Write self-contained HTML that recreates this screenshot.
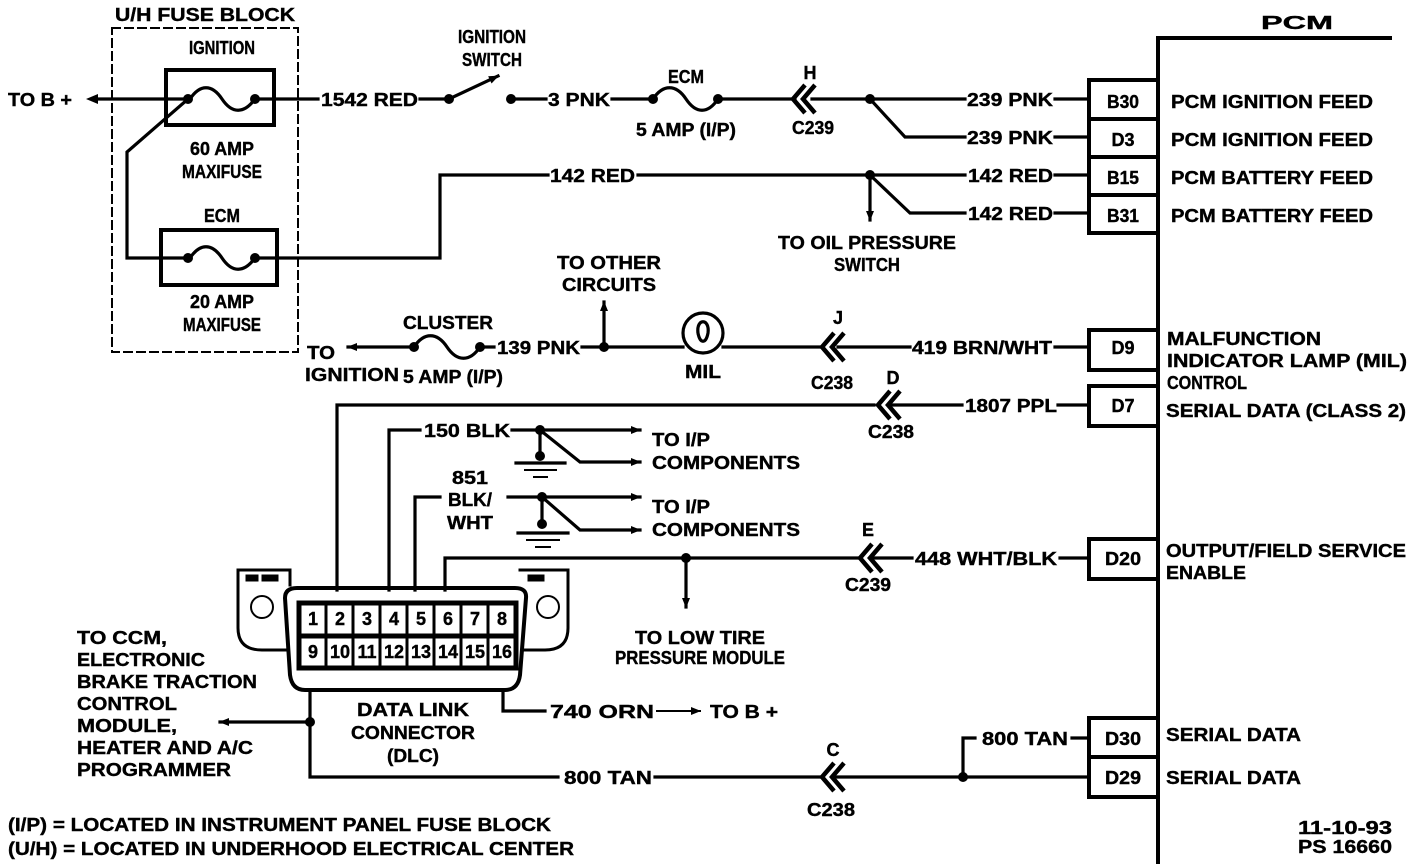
<!DOCTYPE html>
<html><head><meta charset="utf-8"><style>
html,body{margin:0;padding:0;background:#fff;}
svg{display:block}
text{font-family:"Liberation Sans",sans-serif;font-weight:bold;font-size:18px;fill:#000;stroke:#000;stroke-width:0.4px}
</style></head><body>
<svg width="1424" height="864" viewBox="0 0 1424 864" xmlns="http://www.w3.org/2000/svg">
<defs>
<marker id="ar" viewBox="0 0 10 10" refX="9" refY="5" markerWidth="12" markerHeight="10" markerUnits="userSpaceOnUse" orient="auto"><path d="M0,1 L10,5 L0,9 Z" fill="#000"/></marker>
</defs>
<g stroke="#000" stroke-width="3.2" fill="none" stroke-linecap="square">
<line x1="1158" y1="38" x2="1158" y2="864" stroke-width="4"/>
<line x1="1158" y1="38" x2="1390" y2="38" stroke-width="4"/>
<rect x="1089" y="80" width="69" height="153" stroke-width="4"/>
<line x1="1089" y1="119" x2="1158" y2="119" stroke-width="4"/>
<line x1="1089" y1="157" x2="1158" y2="157" stroke-width="4"/>
<line x1="1089" y1="195" x2="1158" y2="195" stroke-width="4"/>
<rect x="1089" y="330" width="69" height="40" stroke-width="4"/>
<rect x="1089" y="386" width="69" height="40" stroke-width="4"/>
<rect x="1089" y="539" width="69" height="40" stroke-width="4"/>
<rect x="1089" y="718" width="69" height="79" stroke-width="4"/>
<line x1="1089" y1="757" x2="1158" y2="757" stroke-width="4"/>
<rect x="112" y="28" width="186" height="324" stroke-dasharray="8,5" stroke-width="2"/>
<rect x="166" y="70" width="108" height="55" stroke-width="4"/>
<rect x="161" y="230" width="116" height="55" stroke-width="4"/>
<path d="M190,99 C200,84 212,84 222,99 C232,114 244,114 255,99"/>
<path d="M190,258 C200,243 212,243 222,258 C232,273 244,273 255,258"/>
<line x1="95" y1="99" x2="188" y2="99"/>
<line x1="255" y1="99" x2="318" y2="99"/>
<path d="M188,99 L127,152 L127,258 L188,258"/>
<path d="M255,258 L440,258 L440,175 L548,175"/>
<line x1="638" y1="175" x2="965" y2="175"/>
<path d="M870,175 L910,213 L965,213"/>
<line x1="1055" y1="175" x2="1088" y2="175"/>
<line x1="1055" y1="213" x2="1088" y2="213"/>
<line x1="870" y1="175" x2="870" y2="220" marker-end="url(#ar)"/>
<line x1="420" y1="99" x2="449" y2="99" stroke-dasharray="4,2"/>
<line x1="449" y1="99" x2="498" y2="76" marker-end="url(#ar)"/>
<line x1="511" y1="99" x2="546" y2="99"/>
<line x1="612" y1="99" x2="650" y2="99"/>
<path d="M653,99 C663,84 676,84 686,99 C696,114 708,114 718,99"/>
<line x1="718" y1="99" x2="795" y2="99"/>
<line x1="812" y1="99" x2="965" y2="99"/>
<path d="M870,99 L905,137 L965,137"/>
<line x1="1055" y1="99" x2="1088" y2="99"/>
<line x1="1055" y1="137" x2="1088" y2="137"/>
<line x1="412" y1="347" x2="348" y2="347" marker-end="url(#ar)"/>
<path d="M414,347 C424,332 437,332 447,347 C457,362 470,362 480,347"/>
<line x1="480" y1="347" x2="494" y2="347"/>
<line x1="582" y1="347" x2="683" y2="347"/>
<line x1="604" y1="347" x2="604" y2="302" marker-end="url(#ar)"/>
<circle cx="703" cy="333" r="20"/>
<path d="M698,333 C696,318 710,318 708,333 C706,344 700,344 698,333"/>
<line x1="723" y1="347" x2="822" y2="347"/>
<line x1="838" y1="347" x2="910" y2="347"/>
<line x1="1055" y1="347" x2="1088" y2="347"/>
<path d="M337,590 L337,405 L874,405"/>
<line x1="890" y1="405" x2="962" y2="405"/>
<line x1="1058" y1="405" x2="1088" y2="405"/>
<path d="M389,590 L389,430 L420,430"/>
<line x1="512" y1="430" x2="640" y2="430" marker-end="url(#ar)"/>
<path d="M540,430 L580,462 L640,462" marker-end="url(#ar)"/>
<line x1="540" y1="430" x2="540" y2="456"/>
<line x1="516" y1="463" x2="565" y2="463"/>
<line x1="525" y1="470" x2="556" y2="470" stroke-width="2"/>
<line x1="534" y1="477" x2="547" y2="477" stroke-width="2"/>
<path d="M415,590 L415,497 L440,497"/>
<line x1="508" y1="497" x2="640" y2="497" marker-end="url(#ar)"/>
<path d="M542,497 L580,530 L640,530" marker-end="url(#ar)"/>
<line x1="542" y1="497" x2="542" y2="525"/>
<line x1="518" y1="533" x2="568" y2="533"/>
<line x1="527" y1="540" x2="559" y2="540" stroke-width="2"/>
<line x1="536" y1="547" x2="550" y2="547" stroke-width="2"/>
<path d="M445,590 L445,558 L858,558"/>
<line x1="874" y1="558" x2="912" y2="558"/>
<line x1="1060" y1="558" x2="1088" y2="558"/>
<line x1="686" y1="558" x2="686" y2="607" marker-end="url(#ar)"/>
<path d="M238,570 L290,570 L290,585 M238,570 L238,628 Q238,650 262,650 L285,650" stroke-width="3"/>
<path d="M520,570 L568,570 L568,628 Q568,650 545,650 L522,650" stroke-width="3"/>
<rect x="246" y="575" width="12" height="6" fill="#000" stroke-width="1"/>
<rect x="262" y="575" width="16" height="6" fill="#000" stroke-width="1"/>
<rect x="528" y="575" width="16" height="6" fill="#000" stroke-width="1"/>
<circle cx="262" cy="607" r="11" stroke-width="2"/>
<circle cx="548" cy="607" r="11" stroke-width="2"/>
<path d="M285,598 Q285,588 297,588 L515,588 Q527,588 526,598 L520,675 Q518,690 505,690 L305,690 Q292,690 290,675 Z" stroke-width="4"/>
<rect x="299" y="603" width="217" height="65" stroke-width="5"/>
<line x1="299" y1="636" x2="516" y2="636" stroke-width="5"/>
<g stroke-width="3">
<line x1="326" y1="603" x2="326" y2="668"/><line x1="353" y1="603" x2="353" y2="668"/><line x1="380" y1="603" x2="380" y2="668"/><line x1="407" y1="603" x2="407" y2="668"/><line x1="434" y1="603" x2="434" y2="668"/><line x1="461" y1="603" x2="461" y2="668"/><line x1="488" y1="603" x2="488" y2="668"/>
</g>
<path d="M503,690 L503,711 L545,711"/>
<line x1="657" y1="711" x2="700" y2="711" stroke-width="2" marker-end="url(#ar)"/>
<path d="M310,690 L310,777 L558,777"/>
<line x1="310" y1="722" x2="220" y2="722" marker-end="url(#ar)"/>
<line x1="655" y1="777" x2="820" y2="777"/>
<line x1="836" y1="777" x2="1088" y2="777"/>
<path d="M963,777 L963,738 L975,738"/>
<line x1="1072" y1="738" x2="1088" y2="738"/>
<g stroke-width="4.5" stroke-linecap="butt">
<path d="M805,85 L793,99 L805,113 M815,85 L803,99 L815,113"/>
<path d="M834,333 L822,347 L834,361 M844,333 L832,347 L844,361"/>
<path d="M890,391 L878,405 L890,419 M900,391 L888,405 L900,419"/>
<path d="M872,544 L860,558 L872,572 M882,544 L870,558 L882,572"/>
<path d="M834,763 L822,777 L834,791 M844,763 L832,777 L844,791"/>
</g>
</g>
<g fill="#000">
<circle cx="188" cy="99" r="5"/><circle cx="255" cy="99" r="5"/>
<circle cx="188" cy="258" r="5"/><circle cx="255" cy="258" r="5"/>
<circle cx="449" cy="99" r="5"/><circle cx="511" cy="99" r="5"/>
<circle cx="653" cy="99" r="5"/><circle cx="718" cy="99" r="5"/>
<circle cx="870" cy="99" r="5"/><circle cx="870" cy="175" r="5"/>
<circle cx="414" cy="347" r="5"/><circle cx="480" cy="347" r="5"/>
<circle cx="604" cy="347" r="5"/>
<circle cx="540" cy="430" r="5"/><circle cx="540" cy="456" r="5"/>
<circle cx="542" cy="497" r="5"/><circle cx="542" cy="524" r="5"/>
<circle cx="686" cy="558" r="5"/>
<circle cx="310" cy="722" r="5"/><circle cx="963" cy="777" r="5"/>
<path d="M86,99 L98,94 L98,104 Z"/>
</g>
<g>
<text x="1297" y="29" text-anchor="middle" font-size="28" textLength="72" lengthAdjust="spacingAndGlyphs">PCM</text>
<text x="205" y="21" text-anchor="middle" textLength="180" lengthAdjust="spacingAndGlyphs">U/H FUSE BLOCK</text>
<text x="222" y="54" text-anchor="middle" textLength="66" lengthAdjust="spacingAndGlyphs">IGNITION</text>
<text x="222" y="155" text-anchor="middle" textLength="64" lengthAdjust="spacingAndGlyphs">60 AMP</text>
<text x="222" y="178" text-anchor="middle" textLength="80" lengthAdjust="spacingAndGlyphs">MAXIFUSE</text>
<text x="222" y="222" text-anchor="middle" textLength="36" lengthAdjust="spacingAndGlyphs">ECM</text>
<text x="222" y="308" text-anchor="middle" textLength="64" lengthAdjust="spacingAndGlyphs">20 AMP</text>
<text x="222" y="331" text-anchor="middle" textLength="78" lengthAdjust="spacingAndGlyphs">MAXIFUSE</text>
<text x="8" y="106" textLength="64" lengthAdjust="spacingAndGlyphs">TO B +</text>
<text x="321" y="106" textLength="97" lengthAdjust="spacingAndGlyphs">1542 RED</text>
<text x="492" y="43" text-anchor="middle" textLength="68" lengthAdjust="spacingAndGlyphs">IGNITION</text>
<text x="492" y="66" text-anchor="middle" textLength="60" lengthAdjust="spacingAndGlyphs">SWITCH</text>
<text x="548" y="106" textLength="62" lengthAdjust="spacingAndGlyphs">3 PNK</text>
<text x="686" y="83" text-anchor="middle" textLength="36" lengthAdjust="spacingAndGlyphs">ECM</text>
<text x="686" y="136" text-anchor="middle" textLength="100" lengthAdjust="spacingAndGlyphs">5 AMP (I/P)</text>
<text x="810" y="79" text-anchor="middle">H</text>
<text x="813" y="134" text-anchor="middle" textLength="42" lengthAdjust="spacingAndGlyphs">C239</text>
<text x="967" y="106" textLength="86" lengthAdjust="spacingAndGlyphs">239 PNK</text>
<text x="967" y="144" textLength="86" lengthAdjust="spacingAndGlyphs">239 PNK</text>
<text x="550" y="182" textLength="85" lengthAdjust="spacingAndGlyphs">142 RED</text>
<text x="968" y="182" textLength="85" lengthAdjust="spacingAndGlyphs">142 RED</text>
<text x="968" y="220" textLength="85" lengthAdjust="spacingAndGlyphs">142 RED</text>
<text x="867" y="249" text-anchor="middle" textLength="178" lengthAdjust="spacingAndGlyphs">TO OIL PRESSURE</text>
<text x="867" y="271" text-anchor="middle" textLength="66" lengthAdjust="spacingAndGlyphs">SWITCH</text>
<text x="1171" y="108" textLength="202" lengthAdjust="spacingAndGlyphs">PCM IGNITION FEED</text>
<text x="1171" y="146" textLength="202" lengthAdjust="spacingAndGlyphs">PCM IGNITION FEED</text>
<text x="1171" y="184" textLength="202" lengthAdjust="spacingAndGlyphs">PCM BATTERY FEED</text>
<text x="1171" y="222" textLength="202" lengthAdjust="spacingAndGlyphs">PCM BATTERY FEED</text>
<text x="1123" y="108" text-anchor="middle" textLength="32" lengthAdjust="spacingAndGlyphs">B30</text>
<text x="1123" y="146" text-anchor="middle">D3</text>
<text x="1123" y="184" text-anchor="middle" textLength="32" lengthAdjust="spacingAndGlyphs">B15</text>
<text x="1123" y="222" text-anchor="middle" textLength="32" lengthAdjust="spacingAndGlyphs">B31</text>
<text x="609" y="269" text-anchor="middle" textLength="104" lengthAdjust="spacingAndGlyphs">TO OTHER</text>
<text x="609" y="291" text-anchor="middle" textLength="94" lengthAdjust="spacingAndGlyphs">CIRCUITS</text>
<text x="448" y="329" text-anchor="middle" textLength="90" lengthAdjust="spacingAndGlyphs">CLUSTER</text>
<text x="497" y="354" textLength="83" lengthAdjust="spacingAndGlyphs">139 PNK</text>
<text x="307" y="359" textLength="28" lengthAdjust="spacingAndGlyphs">TO</text>
<text x="305" y="381" textLength="94" lengthAdjust="spacingAndGlyphs">IGNITION</text>
<text x="403" y="383" textLength="100" lengthAdjust="spacingAndGlyphs">5 AMP (I/P)</text>
<text x="703" y="378" text-anchor="middle" textLength="36" lengthAdjust="spacingAndGlyphs">MIL</text>
<text x="838" y="324" text-anchor="middle">J</text>
<text x="832" y="389" text-anchor="middle" textLength="42" lengthAdjust="spacingAndGlyphs">C238</text>
<text x="912" y="354" textLength="140" lengthAdjust="spacingAndGlyphs">419 BRN/WHT</text>
<text x="1123" y="354" text-anchor="middle">D9</text>
<text x="1167" y="345" textLength="154" lengthAdjust="spacingAndGlyphs">MALFUNCTION</text>
<text x="1167" y="367" textLength="240" lengthAdjust="spacingAndGlyphs">INDICATOR LAMP (MIL)</text>
<text x="1167" y="389" textLength="80" lengthAdjust="spacingAndGlyphs">CONTROL</text>
<text x="893" y="384" text-anchor="middle">D</text>
<text x="891" y="438" text-anchor="middle" textLength="46" lengthAdjust="spacingAndGlyphs">C238</text>
<text x="965" y="412" textLength="92" lengthAdjust="spacingAndGlyphs">1807 PPL</text>
<text x="1123" y="412" text-anchor="middle">D7</text>
<text x="1166" y="417" textLength="240" lengthAdjust="spacingAndGlyphs">SERIAL DATA (CLASS 2)</text>
<text x="424" y="437" textLength="86" lengthAdjust="spacingAndGlyphs">150 BLK</text>
<text x="652" y="446" textLength="58" lengthAdjust="spacingAndGlyphs">TO I/P</text>
<text x="652" y="469" textLength="148" lengthAdjust="spacingAndGlyphs">COMPONENTS</text>
<text x="470" y="484" text-anchor="middle" textLength="36" lengthAdjust="spacingAndGlyphs">851</text>
<text x="470" y="506" text-anchor="middle" textLength="44" lengthAdjust="spacingAndGlyphs">BLK/</text>
<text x="470" y="529" text-anchor="middle" textLength="46" lengthAdjust="spacingAndGlyphs">WHT</text>
<text x="652" y="513" textLength="58" lengthAdjust="spacingAndGlyphs">TO I/P</text>
<text x="652" y="536" textLength="148" lengthAdjust="spacingAndGlyphs">COMPONENTS</text>
<text x="868" y="536" text-anchor="middle">E</text>
<text x="868" y="591" text-anchor="middle" textLength="46" lengthAdjust="spacingAndGlyphs">C239</text>
<text x="915" y="565" textLength="142" lengthAdjust="spacingAndGlyphs">448 WHT/BLK</text>
<text x="1123" y="565" text-anchor="middle" textLength="36" lengthAdjust="spacingAndGlyphs">D20</text>
<text x="1166" y="557" textLength="240" lengthAdjust="spacingAndGlyphs">OUTPUT/FIELD SERVICE</text>
<text x="1166" y="579" textLength="80" lengthAdjust="spacingAndGlyphs">ENABLE</text>
<text x="700" y="644" text-anchor="middle" textLength="130" lengthAdjust="spacingAndGlyphs">TO LOW TIRE</text>
<text x="700" y="664" text-anchor="middle" textLength="170" lengthAdjust="spacingAndGlyphs">PRESSURE MODULE</text>
<g font-size="14" text-anchor="middle">
<text x="313" y="625">1</text><text x="340" y="625">2</text><text x="367" y="625">3</text><text x="394" y="625">4</text><text x="421" y="625">5</text><text x="448" y="625">6</text><text x="475" y="625">7</text><text x="502" y="625">8</text>
<text x="313" y="658">9</text><text x="340" y="658">10</text><text x="367" y="658">11</text><text x="394" y="658">12</text><text x="421" y="658">13</text><text x="448" y="658">14</text><text x="475" y="658">15</text><text x="502" y="658">16</text>
</g>
<text x="413" y="716" text-anchor="middle" textLength="112" lengthAdjust="spacingAndGlyphs">DATA LINK</text>
<text x="413" y="739" text-anchor="middle" textLength="124" lengthAdjust="spacingAndGlyphs">CONNECTOR</text>
<text x="413" y="762" text-anchor="middle" textLength="52" lengthAdjust="spacingAndGlyphs">(DLC)</text>
<text x="550" y="718" textLength="104" lengthAdjust="spacingAndGlyphs">740 ORN</text>
<text x="710" y="718" textLength="68" lengthAdjust="spacingAndGlyphs">TO B +</text>
<text x="77" y="644" textLength="90" lengthAdjust="spacingAndGlyphs">TO CCM,</text>
<text x="77" y="666" textLength="128" lengthAdjust="spacingAndGlyphs">ELECTRONIC</text>
<text x="77" y="688" textLength="180" lengthAdjust="spacingAndGlyphs">BRAKE TRACTION</text>
<text x="77" y="710" textLength="100" lengthAdjust="spacingAndGlyphs">CONTROL</text>
<text x="77" y="732" textLength="100" lengthAdjust="spacingAndGlyphs">MODULE,</text>
<text x="77" y="754" textLength="176" lengthAdjust="spacingAndGlyphs">HEATER AND A/C</text>
<text x="77" y="776" textLength="154" lengthAdjust="spacingAndGlyphs">PROGRAMMER</text>
<text x="564" y="784" textLength="88" lengthAdjust="spacingAndGlyphs">800 TAN</text>
<text x="833" y="756" text-anchor="middle">C</text>
<text x="831" y="816" text-anchor="middle" textLength="48" lengthAdjust="spacingAndGlyphs">C238</text>
<text x="982" y="745" textLength="86" lengthAdjust="spacingAndGlyphs">800 TAN</text>
<text x="1123" y="745" text-anchor="middle" textLength="36" lengthAdjust="spacingAndGlyphs">D30</text>
<text x="1123" y="784" text-anchor="middle" textLength="36" lengthAdjust="spacingAndGlyphs">D29</text>
<text x="1166" y="741" textLength="135" lengthAdjust="spacingAndGlyphs">SERIAL DATA</text>
<text x="1166" y="784" textLength="135" lengthAdjust="spacingAndGlyphs">SERIAL DATA</text>
<text x="8" y="831" textLength="543" lengthAdjust="spacingAndGlyphs">(I/P) = LOCATED IN INSTRUMENT PANEL FUSE BLOCK</text>
<text x="8" y="855" textLength="566" lengthAdjust="spacingAndGlyphs">(U/H) = LOCATED IN UNDERHOOD ELECTRICAL CENTER</text>
<text x="1392" y="834" text-anchor="end" textLength="94" lengthAdjust="spacingAndGlyphs">11-10-93</text>
<text x="1392" y="853" text-anchor="end" textLength="94" lengthAdjust="spacingAndGlyphs">PS 16660</text>
</g>
</svg>
</body></html>
